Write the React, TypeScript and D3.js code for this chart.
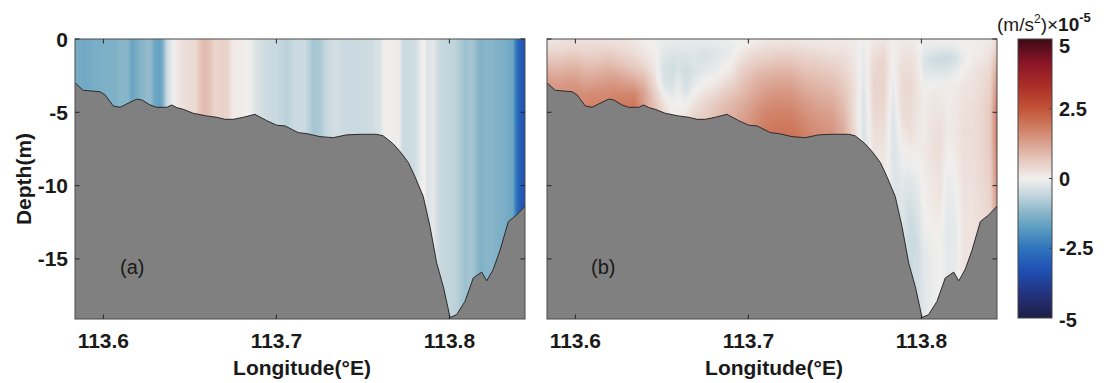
import React from "react";
import * as d3 from "d3";

// ---------- data ----------
const lonTicks = [113.6, 113.7, 113.8];
const depthTicks = [0, -5, -10, -15];
const cbarTicks = [5, 2.5, 0, -2.5, -5];

const bathyLon = [113.5836, 113.5884, 113.5981, 113.6009, 113.6057, 113.6096, 113.6135, 113.6193, 113.6222, 113.627, 113.6308, 113.6366, 113.6395, 113.6424, 113.6462, 113.652, 113.6597, 113.6655, 113.6703, 113.6751, 113.6809, 113.6876, 113.6944, 113.7002, 113.705, 113.7127, 113.7175, 113.7252, 113.7329, 113.7406, 113.7483, 113.758, 113.7618, 113.7676, 113.7715, 113.7763, 113.7801, 113.7849, 113.7888, 113.7927, 113.7965, 113.8004, 113.8042, 113.809, 113.8138, 113.8187, 113.8216, 113.8254, 113.8293, 113.8341, 113.8389, 113.8437];
const bathyDepth = [-3.0, -3.5, -3.6, -3.8, -4.57, -4.66, -4.43, -4.1, -4.16, -4.5, -4.66, -4.66, -4.5, -4.68, -4.8, -5.07, -5.25, -5.34, -5.48, -5.48, -5.34, -5.14, -5.57, -5.88, -5.93, -6.39, -6.45, -6.66, -6.73, -6.54, -6.5, -6.5, -6.61, -7.16, -7.68, -8.43, -9.39, -10.75, -12.8, -15.3, -16.9, -19.0, -18.8, -17.9, -16.3, -15.9, -16.5, -15.7, -14.4, -12.45, -12.0, -11.4];

// panel (a): depth-uniform values (x1e-5 m/s^2)
const lonA = [113.5836, 113.5894, 113.5952, 113.6009, 113.6067, 113.6108, 113.6142, 113.6166, 113.62, 113.6241, 113.627, 113.6298, 113.6327, 113.6345, 113.6368, 113.6397, 113.6431, 113.6472, 113.653, 113.6559, 113.6587, 113.6616, 113.6645, 113.6686, 113.672, 113.6749, 113.6819, 113.6859, 113.6894, 113.6952, 113.7009, 113.7061, 113.7108, 113.7165, 113.7212, 113.7252, 113.7287, 113.7339, 113.7397, 113.7483, 113.7553, 113.7599, 113.7628, 113.7703, 113.7732, 113.7801, 113.783, 113.7853, 113.7876, 113.7905, 113.7946, 113.8032, 113.809, 113.8131, 113.8177, 113.8235, 113.8293, 113.8339, 113.8368, 113.8385, 113.8408, 113.8437];
const valA = [-1.4, -1.5, -1.4, -1.35, -1.35, -1.2, -1.25, -1.6, -1.35, -1.15, -1.1, -1.55, -1.7, -1.3, -0.5, -0.1, 0.15, 0.3, 0.35, 0.7, 0.85, 0.7, 0.45, 0.5, 0.45, 0.1, 0.05, -0.1, -0.35, -0.5, -0.55, -0.7, -0.5, -0.5, -0.9, -0.85, -0.55, -0.4, -0.5, -0.5, -0.45, -0.3, 0.05, 0.05, -0.5, -0.45, -0.1, 0.02, -0.3, -0.15, -0.55, -0.65, -1.0, -0.9, -1.3, -1.2, -1.35, -1.45, -1.6, -2.4, -3.0, -3.2];

// panel (b): values on sigma levels (fraction of local depth)
const sigmaB = [0, 0.08, 0.2, 0.4, 0.6, 0.8, 1.0];
const lonB = [113.5836, 113.5923, 113.6009, 113.6096, 113.6183, 113.627, 113.6339, 113.6397, 113.6455, 113.6512, 113.6559, 113.6593, 113.6639, 113.6686, 113.6744, 113.6819, 113.6894, 113.6963, 113.7033, 113.7108, 113.7183, 113.7252, 113.7322, 113.7397, 113.7483, 113.7553, 113.7611, 113.7668, 113.7726, 113.7784, 113.7836, 113.7888, 113.7934, 113.798, 113.8015, 113.8061, 113.8108, 113.8154, 113.82, 113.8246, 113.8293, 113.835, 113.8397, 113.8437];
const valB = [
  [0.15, 0.2, 0.3, 0.6, 0.9, 1.2, 1.4],
  [0.2, 0.25, 0.35, 0.7, 1.0, 1.3, 1.5],
  [0.25, 0.3, 0.45, 0.8, 1.1, 1.4, 1.6],
  [0.2, 0.3, 0.45, 0.8, 1.2, 1.6, 1.8],
  [0.25, 0.3, 0.5, 0.8, 1.2, 1.5, 1.7],
  [0.2, 0.25, 0.4, 0.75, 1.2, 1.6, 1.9],
  [0.15, 0.2, 0.3, 0.6, 1.1, 1.7, 2.0],
  [0.0, 0.05, 0.15, 0.4, 0.8, 1.2, 1.3],
  [-0.05, 0.0, 0.05, 0.15, 0.35, 0.6, 0.8],
  [-0.1, -0.1, -0.2, -0.35, -0.3, 0.1, 0.4],
  [-0.1, -0.15, -0.3, -0.45, -0.35, -0.1, 0.1],
  [-0.1, -0.15, -0.3, -0.3, -0.1, 0.0, 0.05],
  [-0.1, -0.15, -0.3, -0.45, -0.4, -0.1, 0.2],
  [-0.1, -0.15, -0.25, -0.3, -0.1, 0.2, 0.5],
  [-0.1, -0.2, -0.35, -0.2, 0.1, 0.4, 0.6],
  [-0.1, -0.15, -0.2, -0.1, 0.2, 0.6, 0.8],
  [-0.05, -0.1, -0.1, 0.1, 0.45, 0.8, 1.0],
  [0.0, 0.0, 0.2, 0.55, 0.8, 1.1, 1.3],
  [0.05, 0.15, 0.4, 0.8, 1.1, 1.4, 1.6],
  [0.1, 0.25, 0.5, 1.0, 1.4, 1.7, 1.9],
  [0.15, 0.3, 0.6, 1.1, 1.5, 1.8, 2.0],
  [0.15, 0.3, 0.6, 1.1, 1.5, 1.8, 2.0],
  [0.1, 0.25, 0.5, 0.9, 1.3, 1.6, 1.8],
  [0.1, 0.2, 0.45, 0.8, 1.1, 1.4, 1.6],
  [0.1, 0.15, 0.35, 0.7, 1.0, 1.3, 1.5],
  [0.1, 0.15, 0.3, 0.5, 0.7, 0.9, 1.1],
  [0.1, 0.1, 0.15, 0.25, 0.3, 0.3, 0.4],
  [-0.05, -0.1, -0.15, -0.2, -0.3, -0.3, -0.3],
  [0.1, 0.2, 0.35, 0.45, 0.4, 0.3, 0.2],
  [0.15, 0.3, 0.45, 0.45, 0.35, 0.2, 0.1],
  [0.05, 0.0, -0.05, -0.2, -0.3, -0.25, -0.2],
  [0.1, 0.2, 0.35, 0.3, 0.0, -0.2, -0.3],
  [0.1, 0.25, 0.4, 0.3, -0.2, -0.5, -0.5],
  [0.05, 0.1, 0.2, 0.1, -0.2, -0.45, -0.4],
  [0.0, -0.3, 0.05, 0.1, 0.0, -0.2, -0.2],
  [0.05, -0.45, 0.15, 0.25, 0.1, -0.1, -0.1],
  [0.05, -0.5, 0.1, 0.3, 0.2, 0.0, 0.0],
  [0.05, -0.5, 0.05, 0.1, -0.1, -0.2, -0.15],
  [0.05, -0.35, 0.1, 0.15, 0.0, -0.15, -0.1],
  [0.05, -0.1, 0.2, 0.3, 0.25, 0.2, 0.2],
  [0.05, 0.05, 0.2, 0.3, 0.25, 0.2, 0.2],
  [0.05, 0.1, 0.3, 0.4, 0.4, 0.35, 0.3],
  [0.1, 0.2, 0.4, 0.6, 0.6, 0.5, 0.4],
  [0.3, 0.6, 1.2, 1.8, 1.8, 1.6, 1.4],
];

// colormap (balance-like)
const cmapVals = [-5, -4.2, -3.3, -2.5, -1.8, -1.2, -0.6, 0, 0.6, 1.2, 1.8, 2.5, 3.3, 4.2, 5];
const cmapColors = ["#1c1d46", "#243279", "#1f4fb4", "#2f74bd", "#5a9cc0", "#8ab6c9", "#c3d6dd", "#f1efee", "#e7cbc1", "#dba594", "#d07f65", "#c25437", "#ac2e27", "#871426", "#3d0a16"];

// ---------- layout ----------
const W = 1111, H = 383;
const Y0 = 39, Y1 = 319;
const PANELS = [
  { key: "a", x0: 75, x1: 525, label: "(a)", labelX: 120, yLabels: true },
  { key: "b", x0: 547, x1: 997, label: "(b)", labelX: 591, yLabels: false },
];
const CB = { x0: 1018, x1: 1052, y0: 39, y1: 318 };
const FONT = "'Liberation Sans', Arial, Helvetica, sans-serif";
const FS = 21;

export default function App() {
  const color = d3.scaleLinear<string>().domain(cmapVals).range(cmapColors).interpolate(d3.interpolateRgb).clamp(true);
  const y = d3.scaleLinear().domain([-19.1, 0]).range([Y1, Y0]);
  const bathyAt = d3.scaleLinear().domain(bathyLon).range(bathyDepth).clamp(true);
  const aAt = d3.scaleLinear().domain(lonA).range(valA).clamp(true);
  const bAt = sigmaB.map((_, j) => d3.scaleLinear().domain(lonB).range(valB.map((r) => r[j])).clamp(true));
  const cbY = d3.scaleLinear().domain([-5, 5]).range([CB.y1, CB.y0]);

  const defs: React.ReactNode[] = [];
  const panels = PANELS.map((p) => {
    const x = d3.scaleLinear().domain([113.5836, 113.8437]).range([p.x0, p.x1]);
    const cols: React.ReactNode[] = [];
    for (let X = p.x0; X < p.x1; X++) {
      const lon = x.invert(X + 0.5);
      const h = bathyAt(lon);
      const yb = Math.min(Y1, y(h) + 1.5);
      if (p.key === "a") {
        cols.push(<rect key={X} x={X} y={Y0} width={1} height={yb - Y0} fill={color(aAt(lon))} />);
      } else {
        const id = `gb${X}`;
        const stops: React.ReactNode[] = [];
        const vs = bAt.map((f) => f(lon));
        const sub = 4;
        for (let j = 0; j < sigmaB.length - 1; j++) {
          for (let k = 0; k < sub; k++) {
            const t = k / sub;
            const s = sigmaB[j] + (sigmaB[j + 1] - sigmaB[j]) * t;
            const v = vs[j] + (vs[j + 1] - vs[j]) * t;
            stops.push(<stop key={`${j}-${k}`} offset={s * (y(h) - Y0) / (yb - Y0)} stopColor={color(v)} />);
          }
        }
        stops.push(<stop key="end" offset={1} stopColor={color(vs[vs.length - 1])} />);
        defs.push(
          <linearGradient key={id} id={id} x1={0} y1={0} x2={0} y2={1}>
            {stops}
          </linearGradient>
        );
        cols.push(<rect key={X} x={X} y={Y0} width={1} height={yb - Y0} fill={`url(#${id})`} />);
      }
    }
    const pts = bathyLon.map((l, i) => [l, bathyDepth[i]] as [number, number]);
    const area = d3.area<[number, number]>().x((d) => x(d[0])).y0(Y1).y1((d) => y(d[1]))(pts) || "";
    const line = d3.line<[number, number]>().x((d) => x(d[0])).y((d) => y(d[1]))(pts) || "";
    return (
      <g key={p.key}>
        <g shapeRendering="crispEdges">{cols}</g>
        <path d={area} fill="#808080" />
        <path d={line} fill="none" stroke="#2a2a2a" strokeWidth={1} />
        <rect x={p.x0} y={Y0} width={p.x1 - p.x0} height={Y1 - Y0} fill="none" stroke="#4a4a4a" strokeWidth={1} />
        {lonTicks.map((t) => (
          <g key={t}>
            <line x1={x(t)} x2={x(t)} y1={Y1} y2={Y1 - 4.5} stroke="#262626" strokeWidth={1} />
            <line x1={x(t)} x2={x(t)} y1={Y0} y2={Y0 + 4.5} stroke="#262626" strokeWidth={1} />
            <text x={x(t)} y={348} textAnchor="middle" fontFamily={FONT} fontWeight="bold" fontSize={FS} fill="#1a1a1a">
              {t.toFixed(1)}
            </text>
          </g>
        ))}
        {depthTicks.map((t) => (
          <g key={t}>
            <line x1={p.x0} x2={p.x0 + 4.5} y1={y(t)} y2={y(t)} stroke="#262626" strokeWidth={1} />
            <line x1={p.x1} x2={p.x1 - 4.5} y1={y(t)} y2={y(t)} stroke="#262626" strokeWidth={1} />
            {p.yLabels && (
              <text x={68} y={y(t)} dy="0.36em" textAnchor="end" fontFamily={FONT} fontWeight="bold" fontSize={FS} fill="#1a1a1a">
                {t}
              </text>
            )}
          </g>
        ))}
        <text x={(p.x0 + p.x1) / 2 + 2} y={375} textAnchor="middle" fontFamily={FONT} fontWeight="bold" fontSize={FS} fill="#1a1a1a">
          Longitude(°E)
        </text>
        <text x={p.labelX} y={274} fontFamily={FONT} fontSize={20} fill="#1a1a1a">
          {p.label}
        </text>
      </g>
    );
  });

  const cbStops = cmapVals.map((v, i) => (
    <stop key={i} offset={(5 - v) / 10} stopColor={cmapColors[i]} />
  )).reverse();

  return (
    <svg width={W} height={H} style={{ position: "absolute", left: 0, top: 0, background: "#fff" }}>
      <defs>
        {defs}
        <linearGradient id="cbar" x1={0} y1={0} x2={0} y2={1}>
          {cbStops}
        </linearGradient>
      </defs>
      <rect x={0} y={0} width={W} height={H} fill="#fff" />
      {panels}
      <text transform={`translate(31,${(Y0 + Y1) / 2}) rotate(-90)`} textAnchor="middle" fontFamily={FONT} fontWeight="bold" fontSize={FS} fill="#1a1a1a">
        Depth(m)
      </text>
      <rect x={CB.x0} y={CB.y0} width={CB.x1 - CB.x0} height={CB.y1 - CB.y0} fill="url(#cbar)" stroke="#444" strokeWidth={1} />
      {cbarTicks.map((t) => {
        const yy = cbY(t);
        const ly = t === 5 ? yy + 7 : t === -5 ? yy + 2 : yy;
        return (
          <g key={t}>
            {Math.abs(t) < 5 && <line x1={CB.x1} x2={CB.x1 - 3} y1={yy} y2={yy} stroke="#444" strokeWidth={1} />}
            <text x={1059} y={ly} dy="0.36em" fontFamily={FONT} fontWeight="bold" fontSize={20} fill="#1a1a1a">
              {t}
            </text>
          </g>
        );
      })}
      <text x={997} y={31} fontFamily={FONT} fontSize={19} fill="#1a1a1a">
        <tspan>(m/s</tspan>
        <tspan fontSize={12} dy={-8}>2</tspan>
        <tspan dy={8}>)×</tspan>
        <tspan fontWeight="bold">10</tspan>
        <tspan fontWeight="bold" fontSize={13} dy={-9}>-5</tspan>
      </text>
    </svg>
  );
}
